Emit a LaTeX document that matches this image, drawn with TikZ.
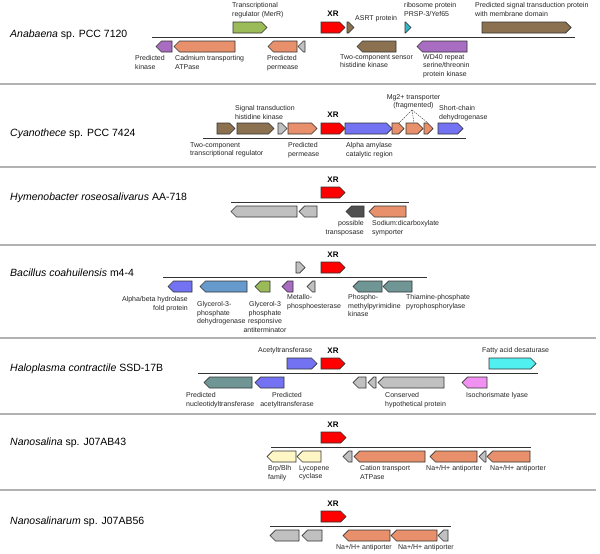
\documentclass[tikz,border=0pt]{standalone}
\usepackage{fontspec}
\setmainfont{Liberation Sans}
\definecolor{cxr}{HTML}{FF0000}
\definecolor{cgreen}{HTML}{9BBB59}
\definecolor{cbrown}{HTML}{8B7150}
\definecolor{csalmon}{HTML}{E8906C}
\definecolor{cpurple}{HTML}{A86CC1}
\definecolor{cgray}{HTML}{C0C0C0}
\definecolor{ccyan}{HTML}{30B8C8}
\definecolor{cblue}{HTML}{7272F2}
\definecolor{csteel}{HTML}{6699CC}
\definecolor{cteal}{HTML}{6F9595}
\definecolor{cdark}{HTML}{505050}
\definecolor{cfatty}{HTML}{50F0F0}
\definecolor{cpink}{HTML}{F090F0}
\definecolor{cyellow}{HTML}{FFF6C6}
\tikzset{
 gene/.style={draw=black!80, line width=0.7pt, line join=miter},
 gline/.style={line width=0.9pt, draw=black!80},
 sepline/.style={line width=1.2pt, draw=black!30},
 lab/.style={font=\fontsize{7}{8.8}\selectfont, inner sep=0pt, align=left, anchor=north west, text=black!85},
 labr/.style={lab, align=right, anchor=north east},
 labc/.style={lab, align=center, anchor=north},
 labw/.style={lab, anchor=west},
 xrlab/.style={font=\bfseries\fontsize{8}{9}\selectfont, inner sep=0pt},
 ttl/.style={font=\fontsize{10.5}{12}\selectfont, inner sep=0pt, anchor=west},
 frag/.style={draw=black!70, line width=0.5pt, dash pattern=on 1.5pt off 1pt},
}
\newcommand{\genefw}[4]{%
  \pgfmathsetmacro{\gh}{min(5.5,#2-#1)}%
  \filldraw[gene,fill=#4] (#1,#3) -- ({#2-\gh},#3) -- (#2,{#3+5.5}) -- ({#2-\gh},{#3+11}) -- (#1,{#3+11}) -- cycle;}
\newcommand{\generv}[4]{%
  \pgfmathsetmacro{\gh}{min(5.5,#2-#1)}%
  \filldraw[gene,fill=#4] (#2,#3) -- ({#1+\gh},#3) -- (#1,{#3+5.5}) -- ({#1+\gh},{#3+11}) -- (#2,{#3+11}) -- cycle;}
\begin{document}
\begin{tikzpicture}[x=1pt,y=-1pt]
\useasboundingbox (0,0) rectangle (600,554);
\fill[white] (0,0) rectangle (600,554);
% separators
\foreach \s in {84,167,245,338,414,490} \draw[sepline] (0,\s) -- (596,\s);

% ===== Panel 1: Anabaena (L=37)
\node[ttl] (t1) at (10,35) {\textit{Anabaena} sp. PCC 7120};
\draw[gline] (152,37) -- (575,37);
\genefw{233}{267}{22}{cgreen}
\genefw{321}{345}{22}{cxr}
\genefw{347}{354}{22}{cbrown}
\genefw{405}{411}{22}{ccyan}
\genefw{482}{571}{22}{cbrown}
\generv{156}{172}{41}{cpurple}
\generv{174}{235}{41}{csalmon}
\generv{268}{297}{41}{csalmon}
\generv{298}{305}{41}{cgray}
\generv{357}{396}{41}{cbrown}
\generv{417}{467}{41}{cpurple}
\node[lab] (a1) at (232,2) {Transcriptional\\regulator (MerR)};
\node[xrlab] (a2) at (333,14) {XR};
\node[labw] (a3) at (355,19) {ASRT protein};
\node[lab] (a4) at (404,2) {ribosome protein\\PRSP-3/Yef65};
\node[lab] (a5) at (475,2) {Predicted signal transduction protein\\with membrane domain};
\node[lab] (a6) at (135,55) {Predicted\\kinase};
\node[lab] (a7) at (175,55) {Cadmium transporting\\ATPase};
\node[lab] (a8) at (267,55) {Predicted\\permease};
\node[lab] (a9) at (340,54) {Two-component sensor\\histidine kinase};
\node[lab] (a10) at (423,54) {WD40 repeat\\serine/threonin\\protein kinase};

% ===== Panel 2: Cyanothece (L=138)
\node[ttl] (t2) at (10,134) {\textit{Cyanothece} sp. PCC 7424};
\draw[gline] (203,138) -- (466,138);
\genefw{217}{235}{123}{cbrown}
\genefw{237}{274}{123}{cbrown}
\genefw{278}{287}{123}{cgray}
\genefw{288}{317}{123}{csalmon}
\genefw{321}{345}{123}{cxr}
\genefw{345}{392}{123}{cblue}
\genefw{392}{404}{123}{csalmon}
\genefw{406}{423}{123}{csalmon}
\genefw{424}{433}{123}{csalmon}
\genefw{438}{463}{123}{cblue}
\node[lab] (b1) at (235,105) {Signal transduction\\histidine kinase};
\node[xrlab] (b2) at (333,115) {XR};
\node[lab] (b3) at (190,142) {Two-component\\transcriptional regulator};
\node[lab] (b4) at (288,142) {Predicted\\permease};
\node[lab] (b5) at (346,142) {Alpha amylase\\catalytic region};
\node[labc] (mg) at (413.5,94) {Mg2+ transporter\\(fragmented)};
\node[lab] (b6) at (439,105) {Short-chain\\dehydrogenase};
\coordinate (apex) at (412,110);
\coordinate (f1) at (399,123);
\coordinate (f2) at (414,123);
\coordinate (f3) at (428,123);
\draw[frag] (apex) -- (f1);
\draw[frag] (apex) -- (f2);
\draw[frag] (apex) -- (f3);

% ===== Panel 3: Hymenobacter (L=202)
\node[ttl] (t3) at (10,198) {\textit{Hymenobacter roseosalivarus} AA-718};
\draw[gline] (231,202) -- (409,202);
\genefw{321}{345}{187}{cxr}
\generv{231}{297}{206}{cgray}
\generv{299}{317}{206}{cgray}
\generv{346}{364}{206}{cdark}
\generv{369}{406}{206}{csalmon}
\node[xrlab] (c1) at (333,180) {XR};
\node[labr] (c2) at (364,220) {possible\\transposase};
\node[lab] (c3) at (372,220) {Sodium:dicarboxylate\\symporter};

% ===== Panel 4: Bacillus (L=277)
\node[ttl] (t4) at (10,273) {\textit{Bacillus coahuilensis} m4-4};
\draw[gline] (163,277) -- (427,277);
\genefw{296}{305}{262}{cgray}
\genefw{321}{345}{262}{cxr}
\generv{168}{192}{281}{cblue}
\generv{200}{247}{281}{csteel}
\generv{255}{270}{281}{cgreen}
\generv{282}{293}{281}{cpurple}
\generv{307}{315}{281}{cgray}
\generv{353}{382}{281}{cteal}
\generv{383}{412}{281}{cteal}
\node[xrlab] (d1) at (333,255) {XR};
\node[labr] (d2) at (188,296) {Alpha/beta hydrolase\\fold protein};
\node[lab] (d3) at (197,301) {Glycerol-3-\\phosphate\\dehydrogenase};
\node[labc] (d4) at (265,301) {Glycerol-3\\phosphate\\responsive\\antiterminator};
\node[lab] (d5) at (287,294) {Metallo-\\phosphoesterase};
\node[lab] (d6) at (348,294) {Phospho-\\methylpyrimidine\\kinase};
\node[lab] (d7) at (406,294) {Thiamine-phosphate\\pyrophosphorylase};

% ===== Panel 5: Haloplasma (L=373)
\node[ttl] (t5) at (10,369) {\textit{Haloplasma contractile} SSD-17B};
\draw[gline] (198,373) -- (538,373);
\genefw{287}{317}{358}{cblue}
\genefw{321}{345}{358}{cxr}
\genefw{489}{536}{358}{cfatty}
\generv{204}{252}{377}{cteal}
\generv{255}{284}{377}{cblue}
\generv{353}{366}{377}{cgray}
\generv{368}{376}{377}{cgray}
\generv{378}{444}{377}{cgray}
\generv{462}{487}{377}{cpink}
\node[labw] (e1) at (258,351) {Acetyltransferase};
\node[xrlab] (e2) at (333,351) {XR};
\node[labw] (e3) at (482,351) {Fatty acid desaturase};
\node[lab] (e4) at (186,392) {Predicted\\nucleotidyltransferase};
\node[labc] (e5) at (287,392) {Predicted\\acetyltransferase};
\node[lab] (e6) at (385,392) {Conserved\\hypothetical protein};
\node[labw] (e7) at (466,396) {Isochorismate lyase};

% ===== Panel 6: Nanosalina (L=447)
\node[ttl] (t6) at (10,443) {\textit{Nanosalina} sp. J07AB43};
\draw[gline] (271,447) -- (531,447);
\genefw{321}{346}{432}{cxr}
\generv{267}{296}{451}{cyellow}
\generv{297}{321}{451}{cyellow}
\generv{343}{352}{451}{cgray}
\generv{354}{425}{451}{csalmon}
\generv{430}{477}{451}{csalmon}
\generv{479}{486}{451}{cgray}
\generv{487}{530}{451}{csalmon}
\node[xrlab] (g1) at (333,425) {XR};
\node[lab] (g2) at (268,465) {Brp/Blh\\family};
\node[lab] (g3) at (299,465) {Lycopene\\cyclase};
\node[lab] (g4) at (360,465) {Cation transport\\ATPase};
\node[lab] (g5) at (426,465) {Na+/H+ antiporter};
\node[lab] (g6) at (490,465) {Na+/H+ antiporter};

% ===== Panel 7: Nanosalinarum (L=526)
\node[ttl] (t7) at (10,522) {\textit{Nanosalinarum} sp. J07AB56};
\draw[gline] (270,526) -- (451,526);
\genefw{321}{346}{511}{cxr}
\generv{270}{299}{530}{cgray}
\generv{302}{322}{530}{cgray}
\generv{343}{390}{530}{csalmon}
\generv{391}{437}{530}{csalmon}
\generv{438}{448}{530}{cgray}
\node[xrlab] (h1) at (333,504) {XR};
\node[labc] (h2) at (364,544) {Na+/H+ antiporter};
\node[labc] (h3) at (426,544) {Na+/H+ antiporter};
\end{tikzpicture}
\end{document}
